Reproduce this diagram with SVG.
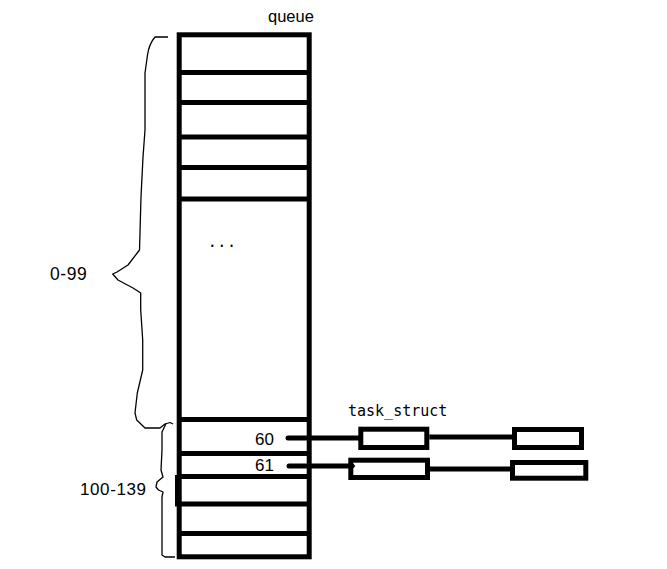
<svg xmlns="http://www.w3.org/2000/svg" width="667" height="569" viewBox="0 0 667 569">
<style>
.thick{fill:none;stroke:#000;stroke-width:5}
.brace{fill:none;stroke:#000;stroke-width:1.3;stroke-linejoin:round}
.lbl{font-family:"Liberation Sans",Arial,sans-serif;font-size:17px;fill:#000}
.rng{letter-spacing:0.6px}
.mono{font-family:"DejaVu Sans Mono","Liberation Mono",monospace;font-size:15px;fill:#000}
</style>
<rect width="667" height="569" fill="#fff"/>
<g id="queue">
<text x="268" y="22" class="lbl" style="font-size:16.5px">queue</text>
<rect class="thick" x="179.2" y="34.8" width="130" height="522"/>
<path class="thick" d="M179.2,72.5H309.2M179.2,102.5H309.2M179.2,137H309.2M179.2,167.5H309.2M179.2,199H309.2M179.2,419.5H309.2M179.2,453.5H309.2M177.5,476.5H309.2M177.5,504H309.2M179.2,533.5H309.2"/>
<rect x="175" y="475" width="5" height="31.5" fill="#000"/>
<text x="207.5" y="247" class="mono" style="font-family:'Liberation Mono',monospace;font-size:16px">...</text>
<text x="255" y="445" class="lbl">60</text>
<text x="255" y="471" class="lbl">61</text>
</g>
<g id="brace-0-99">
<path class="brace" d="M168,37 L155,37 Q149,44 147.5,55 L145,73 L145,130 L143,157 L141,197 L139.5,250 L128,265 L117,272 L112.7,274 L118,280 L133,288 L140.7,293 L140.7,310 L142.7,340 L142.7,370 L137.3,393 L135,413 L136.7,420 L145,428 L160,428 L165,424 L170,422.5 L173,424"/>
<text x="50" y="280" class="lbl rng" style="font-size:17.5px">0-99</text>
</g>
<g id="brace-100-139">
<path class="brace" d="M166,423.5 L162,432 L162,450 L161,470 L163,477 L157,482 L156,487 L158.5,490 L163,492 L162,497 L162,543 L162,555 L165,557 L175,557"/>
<text x="80" y="495" class="lbl rng">100-139</text>
</g>
<g id="task-struct-label">
<text x="348" y="416" class="mono">task_struct</text>
</g>
<g id="task1"><rect class="thick" x="360.8" y="429.2" width="66" height="18.3"/></g>
<g id="task2"><rect class="thick" x="514.5" y="429.5" width="67" height="18"/></g>
<g id="task3"><rect class="thick" x="350.8" y="460.2" width="76.7" height="17.3"/></g>
<g id="task4"><rect class="thick" x="512.5" y="462.5" width="73.3" height="15.7"/></g>
<g id="connectors">
<path class="thick" d="M288,438H359" stroke-linecap="round"/>
<path class="thick" d="M429.3,437H512"/>
<path class="thick" d="M289,466H352" stroke-linecap="round"/>
<polygon points="350,462.5 355.5,466 350,469.5" fill="#000"/>
<path class="thick" d="M430,469H510"/>
</g>
</svg>
